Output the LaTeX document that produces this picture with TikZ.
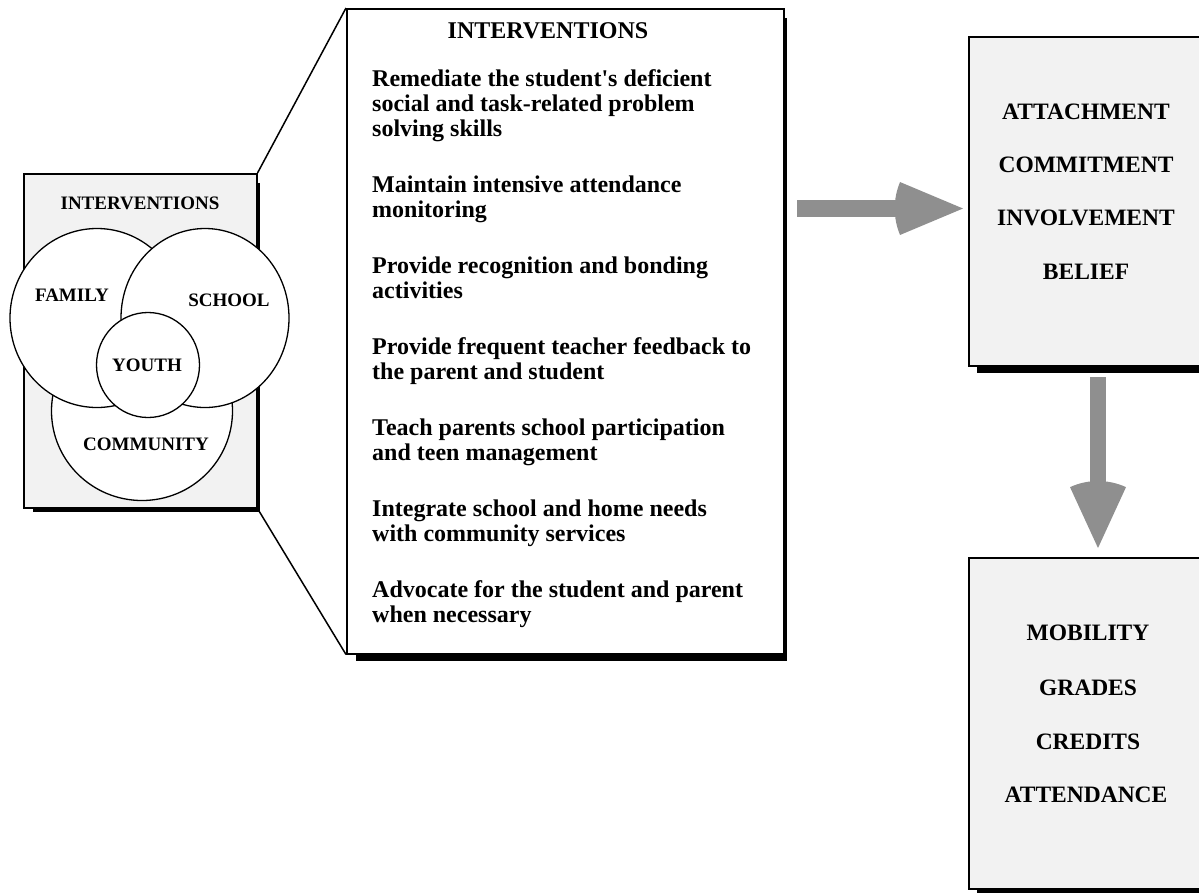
\documentclass[tikz,border=0pt]{standalone}
\usepackage{fontspec}
\setmainfont{Liberation Serif}
\usetikzlibrary{shapes.geometric}
\definecolor{boxgray}{HTML}{F2F2F2}
\definecolor{arrowgray}{HTML}{8F8F8F}
\begin{document}
\begin{tikzpicture}[x=1pt,y=-1pt,
    panel/.style={draw=black,line width=1.5pt,fill=boxgray,inner sep=0pt,anchor=north west},
    shadowbar/.style={fill=black},
    venn/.style={ellipse,draw=black,line width=1.3pt,fill=white,inner sep=0pt},
    venntext/.style={font=\bfseries\fontsize{19}{22}\selectfont,inner sep=0pt},
    listtext/.style={font=\bfseries\fontsize{24}{28}\selectfont,inner sep=0pt,anchor=base west},
    outcome/.style={font=\bfseries\fontsize{23.5}{27}\selectfont,inner sep=0pt},
    blockarrow/.style={fill=arrowgray}]
  \useasboundingbox (0,0) rectangle (1199,892);
  \clip (0,0) rectangle (1199,892);

  % shadows
  \fill[shadowbar] (33,183) rectangle (260,512);
  \fill[shadowbar] (356,18) rectangle (787,661);
  \fill[shadowbar] (977,46) rectangle (1208,373);
  \fill[shadowbar] (977,567) rectangle (1208,897);

  % boxes
  \node[panel,minimum width=233pt,minimum height=334pt] (leftbox) at (23,173) {};
  \node[panel,fill=white,minimum width=437pt,minimum height=645pt] (midbox) at (346,8) {};
  \node[panel,minimum width=236pt,minimum height=329pt] (bondbox) at (968,36) {};
  \node[panel,minimum width=236pt,minimum height=331pt] (outbox) at (968,557) {};

  % zoom lines
  \draw[line width=1.5pt] (leftbox.north east) -- (midbox.north west);
  \draw[line width=1.5pt] (leftbox.south east) -- (midbox.south west);

  % venn
  \node[venn,minimum width=181pt,minimum height=179pt] (community) at (142,411) {};
  \node[venn,minimum width=174pt,minimum height=179pt] (family) at (97,318) {};
  \node[venn,minimum width=168pt,minimum height=179pt] (school) at (205,318) {};
  \node[venn,minimum width=103pt,minimum height=105pt] (youth) at (148,365) {};
  \node[venntext] (lefthead) at (140,203) {INTERVENTIONS};
  \node[venntext] (familytext) at (72,295) {FAMILY};
  \node[venntext] (schooltext) at (229,300) {SCHOOL};
  \node[venntext] (youthtext) at (147,365) {YOUTH};
  \node[venntext] (communitytext) at (146,444) {COMMUNITY};

  % intervention list
  \node[font=\bfseries\fontsize{24}{28}\selectfont,inner sep=0pt,anchor=base] (midhead) at (548,38) {INTERVENTIONS};
  \foreach \y/\t [count=\i] in {
      86/Remediate the student\textquotesingle s deficient,
      111/social and task-related problem,
      136/solving skills,
      192/Maintain intensive attendance,
      217/monitoring,
      273/Provide recognition and bonding,
      298/activities,
      354/Provide frequent teacher feedback to,
      379/the parent and student,
      435/Teach parents school participation,
      460/and teen management,
      516/Integrate school and home needs,
      541/with community services,
      597/Advocate for the student and parent,
      622/when necessary}
    \node[listtext] (line\i) at (372,\y) {\t};

  % outcomes
  \node[outcome] (attach) at (1086,112) {ATTACHMENT};
  \node[outcome] (commit) at (1086,165) {COMMITMENT};
  \node[outcome] (involve) at (1086,218) {INVOLVEMENT};
  \node[outcome] (belief) at (1086,272) {BELIEF};
  \node[outcome] (mobility) at (1088,633) {MOBILITY};
  \node[outcome] (grades) at (1088,688) {GRADES};
  \node[outcome] (credits) at (1088,742) {CREDITS};
  \node[outcome] (attend) at (1086,795) {ATTENDANCE};

  % block arrows
  \coordinate (rtip) at (963,208.5);
  \coordinate (dtip) at (1098,548);
  \fill[blockarrow] (797,200) rectangle (902,217);
  \fill[blockarrow] (rtip) -- ++(157.2:68.3) arc[start angle=157.2,end angle=202.8,radius=68.3] -- cycle;
  \fill[blockarrow] (1090,377) rectangle (1106,485);
  \fill[blockarrow] (dtip) -- ++(-114.7:67) arc[start angle=-114.7,end angle=-65.3,radius=67] -- cycle;
\end{tikzpicture}
\end{document}
